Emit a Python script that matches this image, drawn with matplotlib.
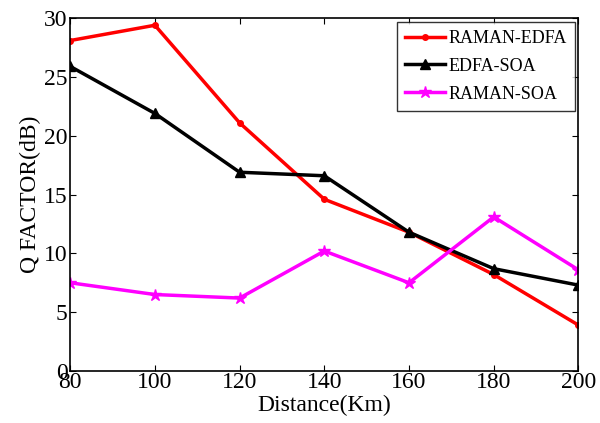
import matplotlib
matplotlib.use("Agg")
import matplotlib.pyplot as plt

distance = [80, 100, 120, 140, 160, 180, 200]
raman_edfa = [28.1, 29.4, 21.1, 14.6, 11.8, 8.2, 3.9]
edfa_soa = [25.9, 21.9, 16.9, 16.6, 11.8, 8.7, 7.3]
raman_soa = [7.5, 6.5, 6.2, 10.2, 7.5, 13.1, 8.6]

plt.rcParams['font.family'] = ['Liberation Serif', 'DejaVu Serif']

fig = plt.figure(figsize=(6.0, 4.23), dpi=100)
ax = fig.add_axes([0.117, 0.123, 0.847, 0.834])

ax.plot(distance, raman_edfa, color='red', lw=2.5, marker='o', ms=4, label='RAMAN-EDFA')
ax.plot(distance, edfa_soa, color='black', lw=2.5, marker='^', ms=7, label='EDFA-SOA')
ax.plot(distance, raman_soa, color='magenta', lw=2.5, marker='*', ms=9, label='RAMAN-SOA')

ax.set_xlim(80, 200)
ax.set_ylim(0, 30)
ax.set_xticks(distance)
ax.set_yticks(range(0, 31, 5))
ax.tick_params(direction='in', labelsize=17, length=4, top=True, right=True, pad=2)
ax.tick_params(axis='x', pad=1)
ax.set_xlabel('Distance(Km)', fontsize=17, labelpad=1)
ax.set_ylabel('Q FACTOR(dB)', fontsize=17, labelpad=2)
for s in ax.spines.values():
    s.set_linewidth(1.2)

leg = ax.legend(loc='upper right', fontsize=13, fancybox=False, edgecolor='black',
                handlelength=2.2, handletextpad=0.2, borderpad=0.45, labelspacing=0.6,
                borderaxespad=0.2)
leg.get_frame().set_linewidth(1.0)

fig.savefig('out.png', dpi=100)
